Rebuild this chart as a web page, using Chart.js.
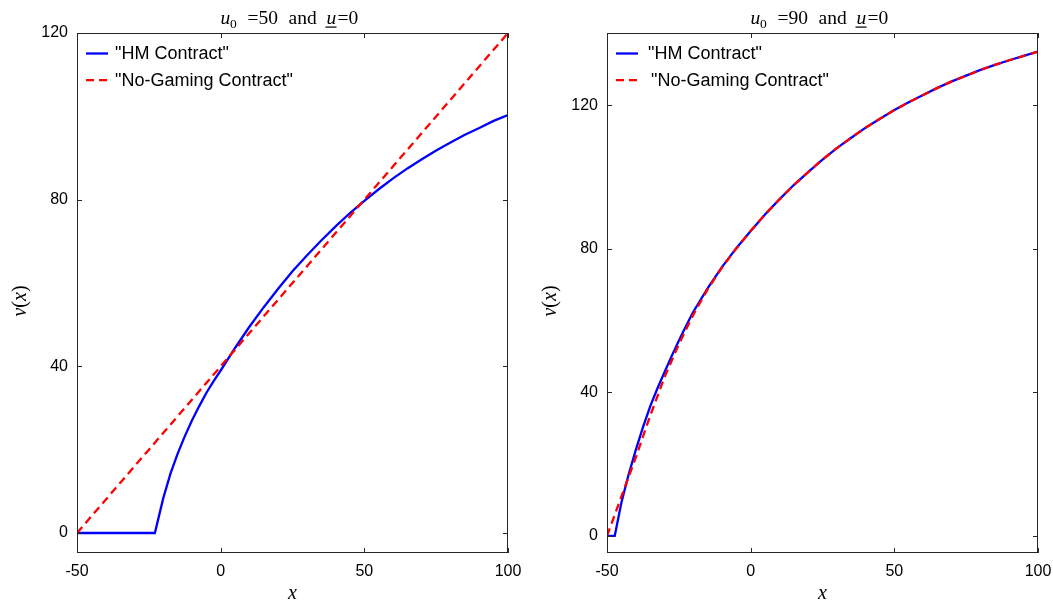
<!DOCTYPE html>
<html><head><meta charset="utf-8">
<script src="https://cdn.jsdelivr.net/npm/chart.js@4.4.0/dist/chart.umd.min.js"></script>
<style>
html,body{margin:0;padding:0;background:#fff;overflow:hidden}
#wrap{position:relative;width:1053px;height:602px;background:#fff}
canvas{position:absolute;top:0}
</style></head><body>
<div id="wrap">
<canvas id="left" width="530" height="602" style="left:0"></canvas>
<canvas id="right" width="523" height="602" style="left:530px"></canvas>
</div>
<script>
// ---- data ----
const xTicks = [-50, 0, 50, 100];
const yTicks = [0, 40, 80, 120];
const seriesLabels = ['"HM Contract"', '"No-Gaming Contract"'];
const u0Values = [50, 90];
const uBar = 0;

// left panel (u0 = 50)
const leftHmX = [-50, -22.9, -20, -17.5, -15, -12.5, -10, -7.5, -5, -2.5, 0, 5, 10, 15, 20, 25, 30, 35, 40, 45, 50, 55, 60, 65, 70, 75, 80, 85, 90, 95, 100];
const leftHmY = [0, 0, 8.3, 14.2, 19.0, 23.2, 27.0, 30.4, 33.6, 36.4, 39.0, 44.4, 49.5, 54.2, 58.6, 62.8, 66.6, 70.2, 73.6, 76.8, 79.7, 82.5, 85.1, 87.5, 89.7, 91.8, 93.7, 95.6, 97.2, 98.9, 100.3];
const leftNgX = [-50, 100];
const leftNgY = [0, 120];

// right panel (u0 = 90)
const rightHmX = [-50, -47.3, -45, -42.5, -40, -37.5, -35, -32.5, -30, -27.5, -25, -22.5, -20, -15, -10, -5, 0, 5, 10, 15, 20, 25, 30, 35, 40, 45, 50, 55, 60, 65, 70, 75, 80, 85, 90, 95, 100];
const rightHmY = [0, 0, 9.2, 17.0, 23.9, 30.2, 36.0, 41.0, 45.6, 50.1, 54.4, 58.5, 62.4, 69.0, 74.9, 80.2, 85.0, 89.6, 93.8, 97.8, 101.4, 104.9, 108.1, 111.0, 113.8, 116.3, 118.7, 120.9, 122.9, 124.9, 126.7, 128.3, 129.9, 131.3, 132.6, 133.8, 135.0];
const rightNgX = [-50, -45, -40, -35, -30, -25, -20, -15, -10, -5, 0, 5, 10, 15, 20, 25, 30, 35, 40, 45, 50, 55, 60, 65, 70, 75, 80, 85, 90, 95, 100];
const rightNgY = [0, 10.9, 21.8, 33.4, 44.2, 53.4, 61.6, 68.7, 74.8, 80.1, 85.0, 89.6, 93.8, 97.8, 101.4, 104.9, 108.1, 111.0, 113.8, 116.3, 118.7, 120.9, 122.9, 124.9, 126.7, 128.3, 129.9, 131.3, 132.6, 133.8, 135.0];

const leftYRange = [-4.8, 120];
const rightYRange = [-4.8, 140.2];

// ---- helpers ----
const pts = (xs, ys) => xs.map((x, i) => ({x, y: ys[i]}));
const SANS = '"Liberation Sans", Arial, sans-serif';
const SERIF = '"Liberation Serif", "Times New Roman", serif';

const decor = {
  id: 'decor',
  afterDatasetsDraw(chart, args, opts) {
    const {ctx, chartArea: a, scales: {x, y}} = chart;
    ctx.save();
    // box
    ctx.strokeStyle = '#262626';
    ctx.lineWidth = 1;
    ctx.strokeRect(a.left + 0.5, a.top + 0.5, a.right - a.left - 1, a.bottom - a.top - 1);
    // inward ticks
    ctx.beginPath();
    xTicks.forEach(v => {
      const p = Math.round(x.getPixelForValue(v)) + 0.5;
      ctx.moveTo(p, a.bottom); ctx.lineTo(p, a.bottom - 5);
      ctx.moveTo(p, a.top); ctx.lineTo(p, a.top + 5);
    });
    yTicks.forEach(v => {
      const p = Math.round(y.getPixelForValue(v)) + 0.5;
      ctx.moveTo(a.left, p); ctx.lineTo(a.left + 5, p);
      ctx.moveTo(a.right, p); ctx.lineTo(a.right - 5, p);
    });
    ctx.stroke();

    // legend
    ctx.textBaseline = 'middle';
    ctx.textAlign = 'left';
    ctx.font = '18px ' + SANS;
    chart.data.datasets.forEach((ds, i) => {
      const ly = a.top + 20.5 + i * 26.7;
      ctx.strokeStyle = ds.borderColor;
      ctx.lineWidth = 2.3;
      ctx.setLineDash(ds.borderDash || []);
      ctx.beginPath();
      ctx.moveTo(a.left + 9, ly); ctx.lineTo(a.left + 31, ly);
      ctx.stroke();
      ctx.setLineDash([]);
      ctx.fillStyle = '#000';
      ctx.fillText(ds.label, a.left + opts.legendText[i], ly + 1);
    });

    // title (pieces laid out like the LaTeX original)
    const fN = '19.5px ' + SERIF, fI = 'italic 19.5px ' + SERIF, fS = '13.5px ' + SERIF;
    const pieces = [
      {t: 'u', f: fI, dx: 0, dy: 0},
      {t: '0', f: fS, dx: 9.5, dy: 3.5},
      {t: '=' + opts.u0, f: fN, dx: 27, dy: 0},
      {t: 'and', f: fN, dx: 68, dy: 0},
      {t: 'u', f: fI, dx: 106, dy: 0, ul: true},
      {t: '=' + uBar, f: fN, dx: 117, dy: 0}
    ];
    const tStart = (a.left + a.right) / 2 - 72;
    const tb = 24;
    ctx.textBaseline = 'alphabetic';
    ctx.fillStyle = '#000';
    pieces.forEach(p => {
      ctx.font = p.f;
      ctx.fillText(p.t, tStart + p.dx, tb + p.dy);
      if (p.ul) {
        ctx.fillRect(tStart + p.dx - 1, tb + 2.5, 11, 1.2);
      }
    });

    // x axis label
    ctx.font = 'italic 20px ' + SERIF;
    ctx.textAlign = 'center';
    ctx.fillText('x', (a.left + a.right) / 2, 599);

    // y axis label
    ctx.save();
    ctx.translate(26, (a.top + a.bottom) / 2 + 8);
    ctx.rotate(-Math.PI / 2);
    const yN = '20px ' + SERIF, yI = 'italic 20px ' + SERIF;
    const yp = [{t: 'v', f: yI}, {t: '(', f: yN}, {t: 'x', f: yI}, {t: ')', f: yN}];
    let yt = 0;
    yp.forEach(p => { ctx.font = p.f; p.w = ctx.measureText(p.t).width; yt += p.w; });
    let yx = -yt / 2;
    ctx.textAlign = 'left';
    yp.forEach(p => { ctx.font = p.f; ctx.fillText(p.t, yx, 0); yx += p.w; });
    ctx.restore();

    ctx.restore();
  }
};

function makeChart(id, hm, ng, yRange, u0, rightPad, legendText) {
  return new Chart(document.getElementById(id), {
    type: 'scatter',
    data: {
      datasets: [
        {label: seriesLabels[0], data: hm, showLine: true, borderColor: '#0000ff', backgroundColor: '#0000ff',
         borderWidth: 2.3, pointRadius: 0, tension: 0, order: 1},
        {label: seriesLabels[1], data: ng, showLine: true, borderColor: '#ff0000', backgroundColor: '#ff0000',
         borderWidth: 2.3, borderDash: [8, 5], pointRadius: 0, tension: 0, order: 0}
      ]
    },
    options: {
      responsive: false,
      animation: false,
      events: [],
      layout: {padding: {top: 33, right: rightPad, left: 0, bottom: 0}},
      plugins: {
        legend: {display: false},
        tooltip: {enabled: false},
        title: {display: false},
        decor: {u0, legendText}
      },
      scales: {
        x: {
          type: 'linear', min: -50, max: 100,
          grid: {display: false, drawTicks: false},
          border: {display: false},
          ticks: {font: {family: SANS, size: 16}, color: '#000', padding: 9, maxRotation: 0, autoSkip: false},
          afterBuildTicks: s => { s.ticks = xTicks.map(v => ({value: v})); },
          afterFit: s => { s.height = 49; s.paddingLeft = 0; s.paddingRight = 0; }
        },
        y: {
          type: 'linear', min: yRange[0], max: yRange[1],
          grid: {display: false, drawTicks: false},
          border: {display: false},
          ticks: {font: {family: SANS, size: 16}, color: '#000', padding: 9, autoSkip: false},
          afterBuildTicks: s => { s.ticks = yTicks.map(v => ({value: v})); },
          afterFit: s => { s.width = 77; s.paddingTop = 0; s.paddingBottom = 0; }
        }
      }
    },
    plugins: [decor]
  });
}

makeChart('left', pts(leftHmX, leftHmY), pts(leftNgX, leftNgY), leftYRange, u0Values[0], 22, [38, 38]);
makeChart('right', pts(rightHmX, rightHmY), pts(rightNgX, rightNgY), rightYRange, u0Values[1], 15, [41, 44]);
</script>
</body></html>
